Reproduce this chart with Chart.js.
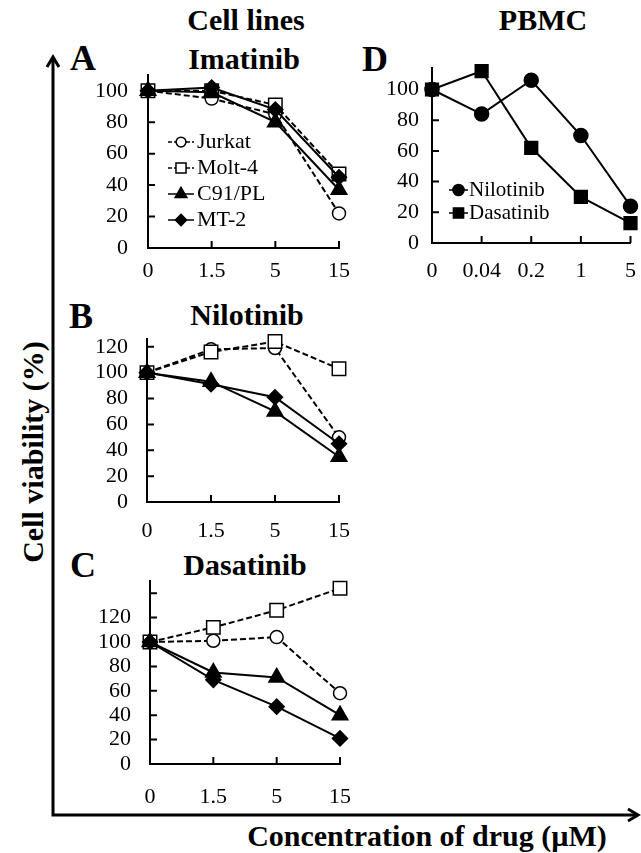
<!DOCTYPE html>
<html lang="en">
<head>
<meta charset="UTF-8">
<title>Cell viability</title>
<script src="https://cdn.jsdelivr.net/npm/chart.js@4"></script>
<style>
  * { margin: 0; padding: 0; box-sizing: border-box; }
  body {
    width: 641px; height: 853px; position: relative; overflow: hidden;
    background: #fff; color: #000;
    font-family: 'Liberation Serif', 'Tinos', 'Nimbus Roman', 'DejaVu Serif', 'Noto Serif', serif;
  }
  canvas { position: absolute; }
  .txt {
    position: absolute; white-space: nowrap; font-weight: bold; line-height: 1;
    transform: translate(-50%, -50%);
  }
  .head { font-size: 30px; }
  .letter { font-size: 36px; }
  .axis-title { font-size: 30px; }
  svg { position: absolute; left: 0; top: 0; }
</style>
</head>
<body>
  <!-- big arrows for the shared axes -->
  <svg width="641" height="853">
    <g stroke="#000" stroke-width="3" fill="none">
      <polyline points="53,57 53,815 638,815" />
      <polyline points="47,67 53,57 59,67" />
      <polyline points="628,809 638,815 628,821" />
    </g>
  </svg>

  <div class="txt head" style="left:246px; top:20px;">Cell lines</div>
  <div class="txt head" style="left:543px; top:20px;">PBMC</div>

  <div class="txt letter" style="left:83px; top:58px;">A</div>
  <div class="txt head" style="left:244px; top:59px;">Imatinib</div>
  <div class="txt letter" style="left:375px; top:59px;">D</div>
  <div class="txt letter" style="left:81px; top:316px;">B</div>
  <div class="txt head" style="left:247px; top:315px;">Nilotinib</div>
  <div class="txt letter" style="left:83px; top:565px;">C</div>
  <div class="txt head" style="left:245px; top:565px;">Dasatinib</div>

  <div class="txt axis-title" style="left:33px; top:452px; transform: translate(-50%, -50%) rotate(-90deg);">Cell viability (%)</div>
  <div class="txt axis-title" style="left:427px; top:836px;">Concentration of drug (µM)</div>

  <canvas id="chartA" width="282" height="230" style="left:78px; top:60px;"></canvas>
  <canvas id="chartD" width="279" height="237" style="left:362px; top:53px;"></canvas>
  <canvas id="chartB" width="283" height="220" style="left:77px; top:324px;"></canvas>
  <canvas id="chartC" width="280" height="244" style="left:80px; top:566px;"></canvas>

<script>
  // doses on the x axes
  const cellDoses = ['0', '1.5', '5', '15'];
  const pbmcDoses = ['0', '0.04', '0.2', '1', '5'];

  // A: Imatinib, cell lines
  const imaJurkat = [100, 95, 85, 22];
  const imaMolt4 = [100, 100, 91, 47];
  const imaC91 = [100, 99, 80, 37];
  const imaMT2 = [100, 102, 88, 45];

  // B: Nilotinib, cell lines
  const niloJurkat = [100, 118, 119, 50];
  const niloMolt4 = [100, 116, 124, 103];
  const niloC91 = [100, 93, 70, 35];
  const niloMT2 = [100, 91, 81, 45];

  // C: Dasatinib, cell lines
  const dasaJurkat = [100, 101, 104, 58];
  const dasaMolt4 = [100, 112, 126, 144];
  const dasaC91 = [100, 75, 71, 40];
  const dasaMT2 = [100, 69, 47, 21];

  // D: PBMC
  const pbmcNilo = [100, 84, 106, 70, 24];
  const pbmcDasa = [100, 112, 62, 30, 13];

  const serif = "'Liberation Serif', 'Tinos', 'Nimbus Roman', 'DejaVu Serif', 'Noto Serif', serif";

  // marker + line look per series name
  const looks = {
    'Jurkat':    { style: 'circle',   radius: 6.5, fill: '#fff', dash: [6, 3], order: 3 },
    'Molt-4':    { style: 'rect',     radius: 9.5, fill: '#fff', dash: [6, 3], order: 2 },
    'C91/PL':    { style: 'triangle', radius: 9,   fill: '#000', dash: [],     order: 1 },
    'MT-2':      { style: 'rectRot',  radius: 7.5, fill: '#000', dash: [],     order: 0 },
    'Nilotinib': { style: 'circle',   radius: 7,   fill: '#000', dash: [],     order: 0 },
    'Dasatinib': { style: 'rect',     radius: 9,   fill: '#000', dash: [],     order: 1 }
  };

  function series(label, data) {
    const s = looks[label];
    return {
      label: label,
      data: data,
      borderColor: '#000',
      borderWidth: 2,
      borderDash: s.dash,
      pointStyle: s.style,
      pointRadius: s.radius,
      pointBackgroundColor: s.fill,
      pointBorderColor: '#000',
      pointBorderWidth: 1.5,
      tension: 0,
      order: s.order,
      clip: false
    };
  }

  // tick marks pointing into the plot
  const innerTicks = {
    id: 'innerTicks',
    beforeDatasetsDraw(chart) {
      const { ctx, scales: { x, y } } = chart;
      ctx.save();
      ctx.strokeStyle = '#000';
      ctx.lineWidth = 2;
      ctx.beginPath();
      x.ticks.forEach((t, i) => {
        if (i === 0) return;
        const px = x.getPixelForTick(i);
        ctx.moveTo(px, y.bottom);
        ctx.lineTo(px, y.bottom - 7);
      });
      y.ticks.forEach(t => {
        if (t.value === 0) return;
        const py = y.getPixelForValue(t.value);
        ctx.moveTo(x.left, py);
        ctx.lineTo(x.left + 7, py);
      });
      ctx.stroke();
      ctx.restore();
    }
  };

  // legend drawn inside the plot: -o- Name
  const lineKey = {
    id: 'lineKey',
    afterDatasetsDraw(chart, args, opts) {
      if (!opts || !opts.show) return;
      const ctx = chart.ctx;
      ctx.save();
      ctx.font = opts.font;
      ctx.textBaseline = 'middle';
      chart.data.datasets.forEach((ds, i) => {
        const yy = opts.y + i * opts.step;
        ctx.strokeStyle = '#000';
        ctx.lineWidth = 1.5;
        ctx.setLineDash(ds.borderDash.length ? [4, 2] : []);
        ctx.beginPath();
        ctx.moveTo(opts.x, yy);
        ctx.lineTo(opts.x + opts.len, yy);
        ctx.stroke();
        ctx.setLineDash([]);
        ctx.fillStyle = ds.pointBackgroundColor;
        Chart.helpers.drawPoint(ctx, {
          pointStyle: ds.pointStyle,
          radius: ds.pointRadius * opts.scale,
          borderWidth: 1.5,
          rotation: 0
        }, opts.x + opts.len / 2, yy);
        ctx.fillStyle = '#000';
        ctx.fillText(ds.label, opts.x + opts.len + opts.gap, yy);
      });
      ctx.restore();
    }
  };

  function panel(id, box, labels, datasets, cfg) {
    const key = cfg.key ? Object.assign({ show: true }, cfg.key,
      { x: cfg.key.x - box.left, y: cfg.key.y - box.top }) : { show: false };
    return new Chart(document.getElementById(id), {
      type: 'line',
      data: { labels: labels, datasets: datasets },
      options: {
        responsive: false,
        animation: false,
        layout: { padding: { top: cfg.padTop, right: cfg.padRight, left: 0, bottom: 0 } },
        plugins: {
          legend: { display: false },
          tooltip: { enabled: false },
          lineKey: key
        },
        scales: {
          x: {
            type: 'category',
            offset: false,
            grid: { display: false, drawTicks: false },
            border: { color: '#000', width: 2 },
            ticks: {
              color: '#000',
              font: { family: serif, size: 22 },
              padding: cfg.xPad,
              maxRotation: 0,
              autoSkip: false
            },
            afterFit: s => { s.height = cfg.xH; s.paddingLeft = 0; s.paddingRight = 0; }
          },
          y: {
            min: 0,
            max: cfg.max,
            grid: { display: false, drawTicks: false },
            border: { color: '#000', width: 2 },
            ticks: {
              color: '#000',
              font: { family: serif, size: 22 },
              stepSize: 20,
              includeBounds: false,
              autoSkip: false,
              padding: cfg.yPad,
              callback: v => (v <= cfg.lastLabel ? v : '')
            },
            afterFit: s => { s.width = cfg.yW; s.paddingTop = 0; s.paddingBottom = 0; }
          }
        }
      },
      plugins: [innerTicks, lineKey]
    });
  }

  panel('chartA', { left: 78, top: 60 }, cellDoses, [
    series('Jurkat', imaJurkat),
    series('Molt-4', imaMolt4),
    series('C91/PL', imaC91),
    series('MT-2', imaMT2)
  ], {
    padTop: 15, padRight: 21, yW: 70, xH: 42, max: 110, lastLabel: 100, xPad: 10, yPad: 20,
    key: { x: 168, y: 142, step: 26, len: 26, gap: 3, scale: 0.75, font: '22px ' + serif }
  });

  panel('chartB', { left: 77, top: 324 }, cellDoses, [
    series('Jurkat', niloJurkat),
    series('Molt-4', niloMolt4),
    series('C91/PL', niloC91),
    series('MT-2', niloMT2)
  ], { padTop: 15, padRight: 21, yW: 70, xH: 42, max: 126, lastLabel: 120, xPad: 16, yPad: 19 });

  panel('chartC', { left: 80, top: 566 }, cellDoses, [
    series('Jurkat', dasaJurkat),
    series('Molt-4', dasaMolt4),
    series('C91/PL', dasaC91),
    series('MT-2', dasaMT2)
  ], { padTop: 15, padRight: 20, yW: 70, xH: 46, max: 150, lastLabel: 120, xPad: 20, yPad: 19 });

  panel('chartD', { left: 362, top: 53 }, pbmcDoses, [
    series('Nilotinib', pbmcNilo),
    series('Dasatinib', pbmcDasa)
  ], {
    padTop: 15, padRight: 9, yW: 70, xH: 47, max: 114, lastLabel: 100, xPad: 15, yPad: 13,
    key: { x: 449, y: 190, step: 23, len: 19, gap: 1, scale: 0.8, font: '21px ' + serif }
  });
</script>
</body>
</html>
